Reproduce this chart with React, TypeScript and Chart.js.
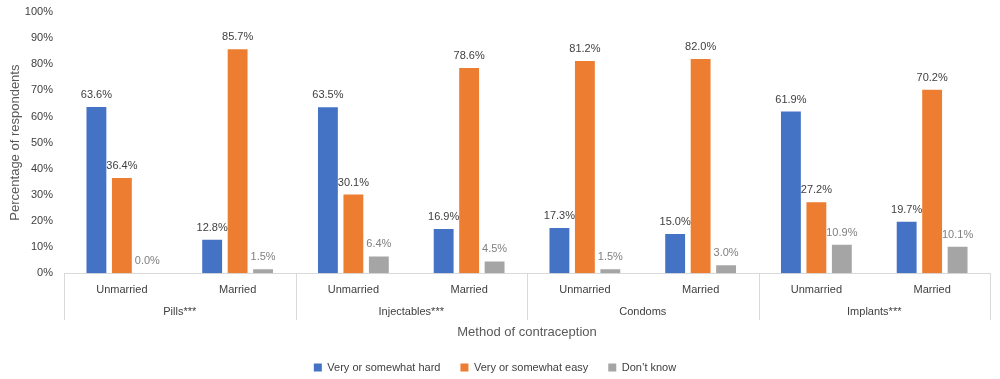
import React, { useEffect, useRef } from "react";
import { Chart, registerables } from "chart.js";

Chart.register(...registerables);

const subLabels = ["Unmarried", "Married", "Unmarried", "Married", "Unmarried", "Married", "Unmarried", "Married"];
const groupLabels = ["Pills***", "Injectables***", "Condoms", "Implants***"];
const hardValues = [63.6, 12.8, 63.5, 16.9, 17.3, 15.0, 61.9, 19.7];
const easyValues = [36.4, 85.7, 30.1, 78.6, 81.2, 82.0, 27.2, 70.2];
const dontKnowValues = [0.0, 1.5, 6.4, 4.5, 1.5, 3.0, 10.9, 10.1];
const seriesNames = ["Very or somewhat hard", "Very or somewhat easy", "Don\u2019t know"];
const yTicks = [0, 10, 20, 30, 40, 50, 60, 70, 80, 90, 100];

const FONT = "'Liberation Sans', Arial, sans-serif";

const groupPlugin = {
  id: "groupAxis",
  afterDraw(chart: any) {
    const { ctx, chartArea } = chart;
    const x = chart.scales.x;
    const bottom = chartArea.bottom;
    const n = subLabels.length;
    const step = (x.right - x.left) / n;
    ctx.save();
    ctx.strokeStyle = "#d9d9d9";
    ctx.lineWidth = 1;
    for (let g = 0; g <= groupLabels.length; g++) {
      const px = Math.round(x.left + g * 2 * step) + 0.5;
      ctx.beginPath();
      ctx.moveTo(px, bottom);
      ctx.lineTo(px, bottom + 47);
      ctx.stroke();
    }
    ctx.fillStyle = "#404040";
    ctx.font = `11px ${FONT}`;
    ctx.textAlign = "center";
    ctx.textBaseline = "middle";
    groupLabels.forEach((g, i) => {
      const cx = x.left + (i * 2 + 1) * step;
      ctx.fillText(g, cx, bottom + 39);
    });
    ctx.restore();
  },
};

const valueLabelPlugin = {
  id: "valueLabels",
  afterDatasetsDraw(chart: any) {
    const { ctx } = chart;
    ctx.save();
    ctx.font = `11px ${FONT}`;
    ctx.textAlign = "center";
    ctx.textBaseline = "alphabetic";
    chart.data.datasets.forEach((ds: any, di: number) => {
      const meta = chart.getDatasetMeta(di);
      ctx.fillStyle = di === 2 ? "#7f7f7f" : "#404040";
      meta.data.forEach((bar: any, i: number) => {
        const v = ds.data[i];
        ctx.fillText(v.toFixed(1) + "%", bar.x, bar.y - 9);
      });
    });
    ctx.restore();
  },
};

export default function App() {
  const ref = useRef<HTMLCanvasElement>(null);
  useEffect(() => {
    if (!ref.current) return;
    const chart = new Chart(ref.current, {
      type: "bar",
      data: {
        labels: subLabels,
        datasets: [
          { label: seriesNames[0], data: hardValues, backgroundColor: "#4472C4" },
          { label: seriesNames[1], data: easyValues, backgroundColor: "#ED7D31" },
          { label: seriesNames[2], data: dontKnowValues, backgroundColor: "#A5A5A5" },
        ],
      },
      options: {
        animation: false,
        responsive: false,
        maintainAspectRatio: false,
        layout: { padding: { top: 12, right: 10, left: 0, bottom: -4 } },
        datasets: { bar: { categoryPercentage: 0.66, barPercentage: 0.78 } },
        scales: {
          x: {
            grid: { display: false, drawTicks: false },
            border: { display: true, color: "#d9d9d9" },
            ticks: { color: "#404040", font: { family: FONT, size: 11 }, padding: 10, maxRotation: 0 },
            title: {
              display: true,
              text: "Method of contraception",
              color: "#595959",
              font: { family: FONT, size: 13 },
              padding: { top: 18, bottom: 2 },
            },
          },
          y: {
            min: 0,
            max: 100,
            afterFit(scale: any) { scale.width = 64; },
            afterBuildTicks(scale: any) { scale.ticks = yTicks.map((v) => ({ value: v })); },
            grid: { display: false },
            border: { display: false },
            ticks: {
              color: "#404040",
              font: { family: FONT, size: 11 },
              padding: 3,
              callback: (v: any) => v + "%",
            },
            title: {
              display: true,
              text: "Percentage of respondents",
              color: "#595959",
              font: { family: FONT, size: 13 },
              padding: { top: 8, bottom: 0 },
            },
          },
        },
        plugins: {
          legend: {
            position: "bottom",
            labels: {
              boxWidth: 8,
              boxHeight: 8,
              padding: 20,
              color: "#404040",
              font: { family: FONT, size: 11 },
            },
          },
          tooltip: { enabled: false },
        },
      },
      plugins: [groupPlugin, valueLabelPlugin],
    });
    return () => chart.destroy();
  }, []);
  return (
    <div style={{ position: "fixed", left: 0, top: 0, width: 1000, height: 379, background: "#fff" }}>
      <canvas ref={ref} width={1000} height={379} style={{ width: 1000, height: 379 }} />
    </div>
  );
}
